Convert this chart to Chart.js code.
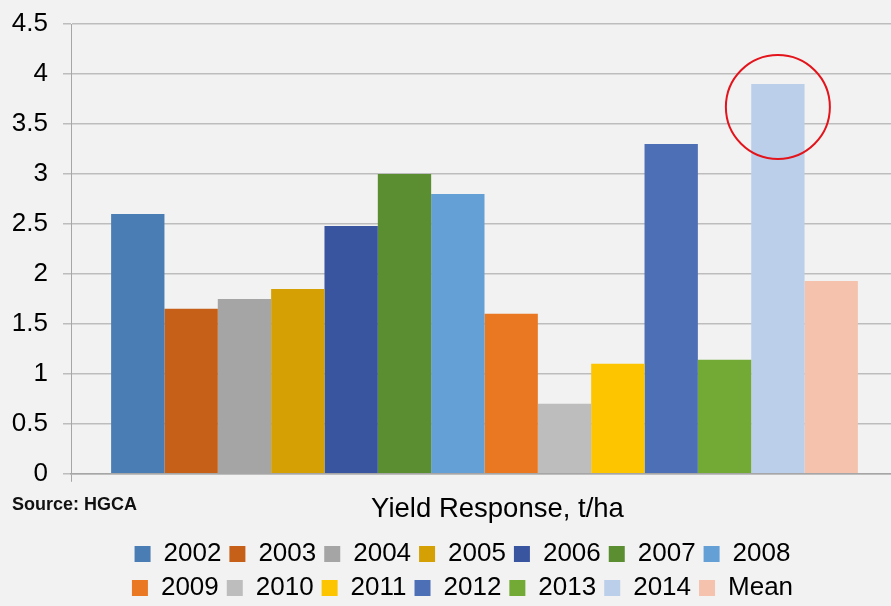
<!DOCTYPE html>
<html>
<head>
<meta charset="utf-8">
<script src="https://cdn.jsdelivr.net/npm/chart.js@4/dist/chart.umd.min.js"></script>
<style>
    html, body { margin: 0; padding: 0; background: #f2f2f2; overflow: hidden; }
    #wrap { position: relative; width: 898px; height: 611px; }
</style>
</head>
<body>
<div id="wrap"><canvas id="yieldChart"></canvas></div>
<script>
var categories = ['Yield Response, t/ha'];
var seriesNames = ['2002', '2003', '2004', '2005', '2006', '2007', '2008',
                   '2009', '2010', '2011', '2012', '2013', '2014', 'Mean'];
var seriesValues = [2.6, 1.65, 1.75, 1.85, 2.48, 3.0, 2.8,
                    1.6, 0.7, 1.1, 3.3, 1.14, 3.9, 1.93];
var seriesColors = ['#4a7db3', '#c65f18', '#a5a5a5', '#d4a003', '#3a559f', '#5b8d31', '#649fd6',
                    '#ea7823', '#bdbdbd', '#fdc400', '#4d6fb5', '#72aa35', '#bbcfea', '#f5c2ad'];
var yTickLabels = ['0', '0.5', '1', '1.5', '2', '2.5', '3', '3.5', '4', '4.5'];
var sourceText = 'Source: HGCA';
var circledSeries = '2014';
var circleCentreValue = 3.67;

var FONT = '"Liberation Sans", Arial, Helvetica, sans-serif';

// legend: seven items per row, box placed between x 90 and 835
var legendRows = {
    id: 'legendRows',
    beforeLayout: function (chart) {
        var lg = chart.legend;
        if (lg && !lg._rowsPatched) {
            var orig = lg.update.bind(lg);
            lg.update = function (w, h, m) { return orig(Math.min(w, 745), h, m); };
            lg._rowsPatched = true;
        }
    },
    afterLayout: function (chart) {
        var lg = chart.legend;
        if (!lg) return;
        lg.left = 90;
        lg.right = 835;
        lg.width = 745;
    }
};

var extras = {
    id: 'extras',
    afterDatasetsDraw: function (chart) {
        var ctx = chart.ctx;
        var idx = seriesNames.indexOf(circledSeries);
        var bar = chart.getDatasetMeta(idx).data[0];
        var cy = chart.scales.y.getPixelForValue(circleCentreValue);
        ctx.save();
        ctx.strokeStyle = '#e3141b';
        ctx.lineWidth = 2;
        ctx.beginPath();
        ctx.arc(bar.x, cy, 52, 0, Math.PI * 2);
        ctx.stroke();
        ctx.restore();
    },
    afterDraw: function (chart) {
        var ctx = chart.ctx;
        ctx.save();
        ctx.font = 'bold 18px ' + FONT;
        ctx.fillStyle = '#111';
        ctx.textBaseline = 'alphabetic';
        ctx.textAlign = 'left';
        ctx.fillText(sourceText, 12, chart.scales.x.top + 36);
        ctx.restore();
    }
};

var datasets = seriesNames.map(function (name, i) {
    return {
        label: name,
        data: [seriesValues[i]],
        backgroundColor: seriesColors[i],
        borderWidth: 0,
        categoryPercentage: 0.903,
        barPercentage: 1.0
    };
});

new Chart(document.getElementById('yieldChart'), {
    type: 'bar',
    data: { labels: categories, datasets: datasets },
    plugins: [legendRows, extras],
    options: {
        responsive: true,
        maintainAspectRatio: false,
        animation: false,
        layout: { padding: { left: 12, top: 24, right: 0, bottom: 0 } },
        plugins: {
            tooltip: { enabled: false },
            legend: {
                position: 'bottom',
                title: { display: true, text: '', padding: 0, font: { size: 6 } },
                labels: {
                    boxWidth: 16,
                    boxHeight: 16,
                    padding: 8,
                    color: '#000',
                    font: { family: FONT, size: 26 }
                }
            }
        },
        scales: {
            x: {
                afterFit: function (scale) { scale.height = 52; },
                grid: { display: true, drawOnChartArea: false, tickLength: 8, color: '#a6a6a6' },
                border: { display: true, color: '#a6a6a6', width: 1.5 },
                ticks: { color: '#000', padding: 11, labelOffset: 13, font: { family: FONT, size: 27.5 } }
            },
            y: {
                min: 0,
                max: 4.5,
                afterFit: function (scale) { scale.width = 59; },
                grid: { color: '#bdbdbd', lineWidth: 1.5, tickLength: 8 },
                border: { display: true, color: '#a6a6a6', width: 1 },
                ticks: {
                    stepSize: 0.5,
                    color: '#000',
                    padding: 15,
                    font: { family: FONT, size: 26, lineHeight: 0.6 },
                    callback: function (value, index) { return yTickLabels[index]; }
                }
            }
        }
    }
});
</script>
</body>
</html>
